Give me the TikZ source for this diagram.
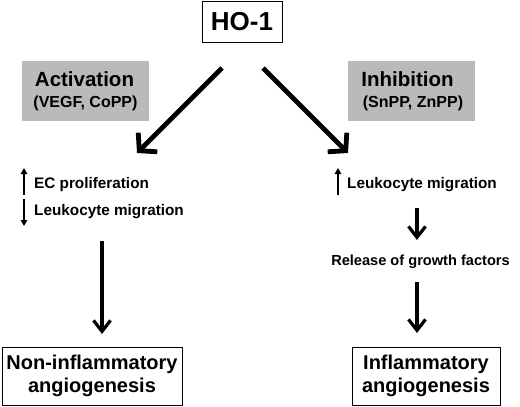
\documentclass[tikz,border=0pt]{standalone}
\usepackage{fontspec}
\setmainfont{Liberation Sans}
\usetikzlibrary{arrows.meta}
\begin{document}
\begin{tikzpicture}[x=1pt,y=-1pt,
  font=\bfseries,
  framebox/.style={draw=black, line width=1pt, fill=white, inner sep=0pt},
  graybox/.style={fill=black!27, inner sep=0pt},
  bigarrow/.style={line width=4.8pt, -{Straight Barb[length=12pt,width=27pt]}},
  vertarrow/.style={line width=3.2pt, -{Straight Barb[length=11pt,width=17pt]}},
  smallarrow/.style={line width=2pt, -{Triangle[length=6pt,width=6.5pt]}},
  lbl/.style={inner sep=0pt, font=\fontsize{15.3}{17}\selectfont\bfseries},
  head/.style={inner sep=0pt, anchor=base, font=\fontsize{20.5}{22}\selectfont\bfseries},
  sub/.style={inner sep=0pt, anchor=base, font=\fontsize{16}{18}\selectfont\bfseries}]
\useasboundingbox (0,0) rectangle (520,407);
\fill[white] (0,0) rectangle (520,407);
% top box
\node[framebox, minimum width=80pt, minimum height=41pt, font=\fontsize{26}{28}\selectfont\bfseries] (ho) at (242,22) {HO-1};
% gray boxes
\node[graybox, minimum width=127pt, minimum height=60pt] (act) at (85.5,91) {};
\node[head] (actt) at (84.5,86) {Activation};
\node[sub] (acts) at (85.5,107) {(VEGF, CoPP)};
\node[graybox, minimum width=127pt, minimum height=60pt] (inh) at (411.5,91) {};
\node[head] (inht) at (407.5,86) {Inhibition};
\node[sub] (inhs) at (413,107) {(SnPP, ZnPP)};
% diagonal arrows
\coordinate (l0) at (222,68);
\coordinate (l1) at (137,153);
\coordinate (r0) at (263,68);
\coordinate (r1) at (348,153);
\draw[bigarrow] (l0) -- (l1);
\draw[bigarrow] (r0) -- (r1);
% left texts
\node[lbl, anchor=base west] (ec) at (34,188) {EC proliferation};
\node[lbl, anchor=base west] (leukl) at (34,215) {Leukocyte migration};
\coordinate (ua0) at (24,195);
\coordinate (ua1) at (24,168);
\coordinate (da0) at (24,199);
\coordinate (da1) at (24,226);
\draw[smallarrow] (ua0) -- (ua1);
\draw[smallarrow] (da0) -- (da1);
% left vertical
\node[framebox, minimum width=180pt, minimum height=58pt, align=center, font=\fontsize{20}{23}\selectfont\bfseries] (noninf) at (92,376) {Non-inflammatory\\angiogenesis};
\coordinate (lv0) at (102,241);
\coordinate (lv1) at (102,334);
\draw[vertarrow] (lv0) -- (lv1);
% right texts
\node[lbl, anchor=base west] (leukr) at (347,188) {Leukocyte migration};
\coordinate (ur0) at (338,195);
\coordinate (ur1) at (338,168);
\draw[smallarrow] (ur0) -- (ur1);
\node[lbl, anchor=base, font=\fontsize{14.6}{16}\selectfont\bfseries] (rel) at (420.5,265) {Release of growth factors};
\coordinate (rv0) at (417,208);
\coordinate (rv1) at (417,240);
\draw[vertarrow] (rv0) -- (rv1);
\node[framebox, minimum width=148pt, minimum height=58pt, align=center, font=\fontsize{20}{23}\selectfont\bfseries] (inf) at (426,376) {Inflammatory\\angiogenesis};
\coordinate (rv2) at (417,282);
\coordinate (rv3) at (417,333);
\draw[vertarrow] (rv2) -- (rv3);
\end{tikzpicture}
\end{document}
